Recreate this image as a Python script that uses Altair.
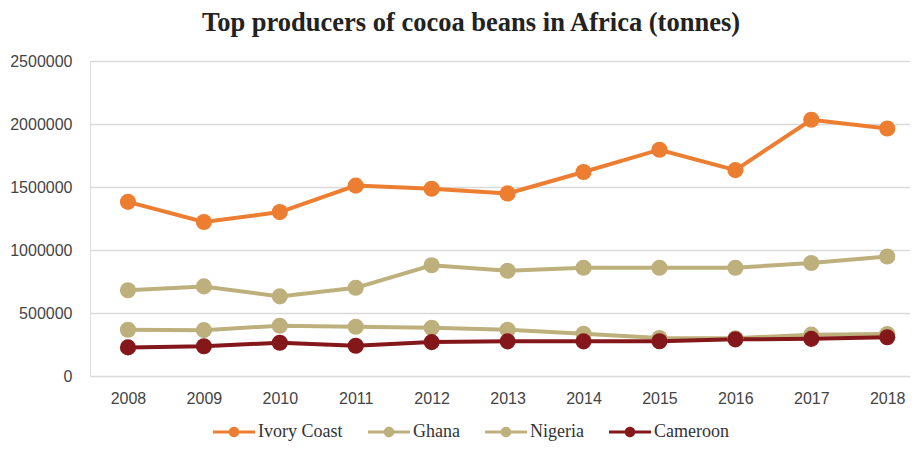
import altair as alt
import pandas as pd

years = [2008, 2009, 2010, 2011, 2012, 2013, 2014, 2015, 2016, 2017, 2018]
ivory_coast = [1382000, 1222000, 1301000, 1511000, 1486000, 1449000, 1619000, 1796000, 1634000, 2034000, 1964000]
ghana = [681000, 711000, 632000, 700000, 879000, 835000, 859000, 859000, 859000, 897000, 948000]
nigeria = [367000, 364000, 399000, 391000, 383000, 367000, 335000, 302000, 300000, 328000, 333000]
cameroon = [227000, 236000, 264000, 240000, 269000, 275000, 275000, 276000, 291000, 295000, 308000]

series_names = ["Ivory Coast", "Ghana", "Nigeria", "Cameroon"]
series_values = [ivory_coast, ghana, nigeria, cameroon]
series_colors = ["#ED7D31", "#BDB07D", "#BDB07D", "#841719"]

rows = []
for order, (name, vals) in enumerate(zip(series_names, series_values)):
    for y, v in zip(years, vals):
        rows.append({"Year": y, "Value": v, "Country": name, "ord": order})
df = pd.DataFrame(rows)

color = alt.Color(
    "Country:N",
    scale=alt.Scale(domain=series_names, range=series_colors),
    sort=series_names,
    legend=alt.Legend(
        title=None,
        orient="none",
        direction="horizontal",
        legendX=123,
        legendY=350,
        labelFont="Liberation Serif",
        labelFontSize=18,
        labelColor="#333333",
        symbolType="M-1,-0.075H1V0.075H-1Z M-0.25,0A0.25,0.25 0 1,1 0.25,0A0.25,0.25 0 1,1 -0.25,0Z",
        symbolSize=1764,
        symbolStrokeWidth=0,
        symbolOpacity=1,
        columnPadding=25,
        labelOffset=3,
    ),
)

x = alt.X(
    "Year:Q",
    scale=alt.Scale(domain=[2007.5, 2018.3], nice=False, zero=False),
    axis=alt.Axis(
        values=years,
        format="d",
        title=None,
        grid=False,
        ticks=False,
        domain=False,
        labelFont="Liberation Sans",
        labelFontSize=16,
        labelColor="#444444",
        labelPadding=14,
    ),
)
y = alt.Y(
    "Value:Q",
    scale=alt.Scale(domain=[0, 2500000], nice=False),
    axis=alt.Axis(
        values=[0, 500000, 1000000, 1500000, 2000000, 2500000],
        format="d",
        title=None,
        ticks=False,
        domain=False,
        gridColor="#D9D9D9",
        gridWidth=1.5,
        labelFont="Liberation Sans",
        labelFontSize=16,
        labelColor="#444444",
        labelPadding=18,
    ),
)

lines = alt.Chart(df).mark_line(strokeWidth=4).encode(
    x=x, y=y, color=color, detail="Country:N", order="Year:Q"
)
points = alt.Chart(df).mark_circle(size=260, opacity=1).encode(
    x=x, y=y, color=alt.Color("Country:N", scale=alt.Scale(domain=series_names, range=series_colors), legend=None),
    order="ord:Q",
)

chart = (
    alt.layer(lines, points)
    .properties(
        width=820,
        height=315,
        autosize=alt.AutoSizeParams(type="none"),
        padding={"left": 82, "top": 53, "right": 0, "bottom": 67},
        title=alt.TitleParams(
            "Top producers of cocoa beans in Africa (tonnes)",
            font="Liberation Serif",
            fontSize=26.5,
            fontWeight="bold",
            color="#222222",
            anchor="middle",
            offset=17,
            dx=-29,
        ),
    )
    .configure_view(stroke=None)
    .configure(background="white")
)

chart.save("out.html", embed_options={"renderer": "svg", "actions": False})
